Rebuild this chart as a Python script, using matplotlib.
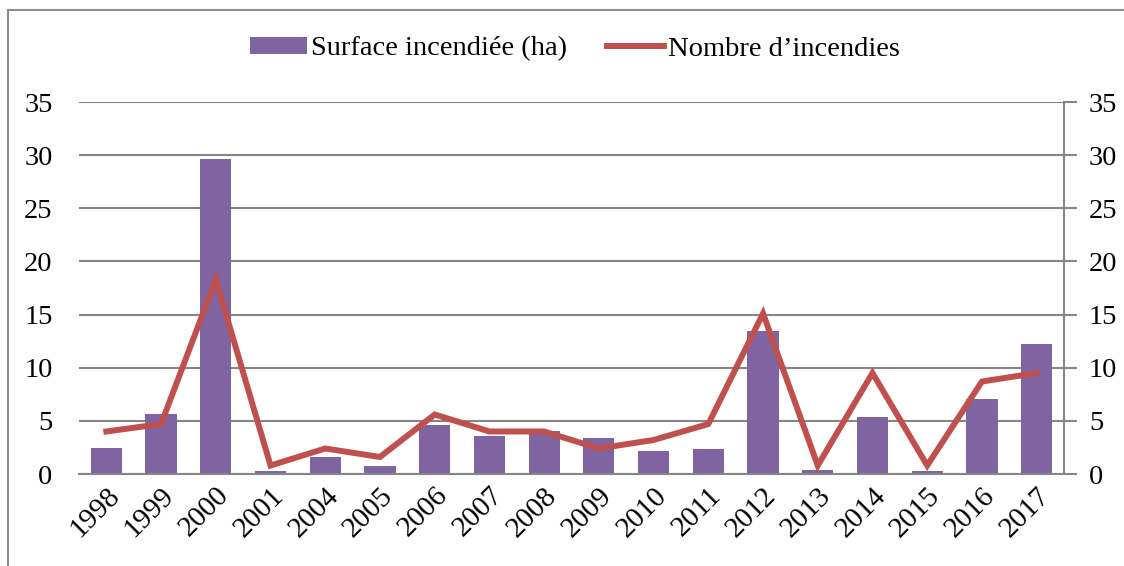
import matplotlib
matplotlib.use("Agg")
import matplotlib.pyplot as plt
from matplotlib.lines import Line2D
from matplotlib.patches import Patch
import numpy as np

years = ["1998", "1999", "2000", "2001", "2004", "2005", "2006", "2007", "2008",
         "2009", "2010", "2011", "2012", "2013", "2014", "2015", "2016", "2017"]
surface = [2.4, 5.6, 29.6, 0.3, 1.6, 0.75, 4.6, 3.6, 4.0,
           3.4, 2.2, 2.35, 13.5, 0.4, 5.4, 0.3, 7.1, 12.2]
nombre = [4.0, 4.7, 18.3, 0.8, 2.4, 1.6, 5.6, 4.0, 4.0,
          2.4, 3.2, 4.7, 15.1, 0.8, 9.5, 0.8, 8.7, 9.5]
yticks = [0, 5, 10, 15, 20, 25, 30, 35]

plt.rcParams['font.family'] = ['Liberation Serif', 'DejaVu Serif']

BAR = "#8064A2"
LINE = "#C0504D"
GRID = "#868686"

fig = plt.figure(figsize=(11.24, 5.66), dpi=100)
ax = fig.add_axes([79/1124, 1 - 474/566, (1064-79)/1124, (474-102)/566])

x = np.arange(len(years))
ax.bar(x, surface, width=0.57, color=BAR, zorder=2, label="Surface incendiée (ha)")
ax.set_xlim(-0.5, len(years) - 0.5)
ax.set_ylim(0, 35)
ax.set_yticks(yticks)
ax.set_yticklabels([str(v) for v in yticks], fontsize=20.5)
ax.tick_params(axis='y', length=0, pad=19)
ax.yaxis.grid(True, color=GRID, linewidth=1.5, zorder=0)
ax.set_axisbelow(True)
for s in ['top', 'left', 'right']:
    ax.spines[s].set_visible(False)
ax.spines['bottom'].set_color(GRID)
ax.spines['bottom'].set_linewidth(1.5)
ax.set_xticks(x)
ax.set_xticklabels(years, rotation=45, ha='right', rotation_mode='anchor', fontsize=21)
ax.tick_params(axis='x', length=0, pad=6)

ax2 = ax.twinx()
ax2.plot(x, nombre, color=LINE, linewidth=4.3, solid_joinstyle='miter', zorder=3,
         label="Nombre d’incendies")
ax2.set_ylim(0, 35)
ax2.set_yticks(yticks)
ax2.set_yticklabels([str(v) for v in yticks], fontsize=20.5)
ax2.tick_params(axis='y', length=9, width=1.5, color=GRID, pad=9)
for s in ['top', 'left', 'bottom']:
    ax2.spines[s].set_visible(False)
ax2.spines['right'].set_color(GRID)
ax2.spines['right'].set_linewidth(1.5)

handles = [Patch(facecolor=BAR, edgecolor='none'),
           Line2D([0], [0], color=LINE, linewidth=4.3)]
fig.legend(handles, ["Surface incendiée (ha)", "Nombre d’incendies"],
           loc='center', bbox_to_anchor=(575/1124, 1 - 49/566), ncol=2,
           frameon=False, fontsize=20.5, handlelength=2.0, handleheight=0.5,
           handletextpad=0.15, columnspacing=1.4)

# outer frame (top and left edges visible)
fig.add_artist(Line2D([8/1124, 8/1124], [0, 1 - 10/566], transform=fig.transFigure,
                      color="#8c8c8c", linewidth=1.5))
fig.add_artist(Line2D([8/1124, 1], [1 - 10/566, 1 - 10/566], transform=fig.transFigure,
                      color="#8c8c8c", linewidth=1.5))

fig.savefig("out.png", dpi=100)
